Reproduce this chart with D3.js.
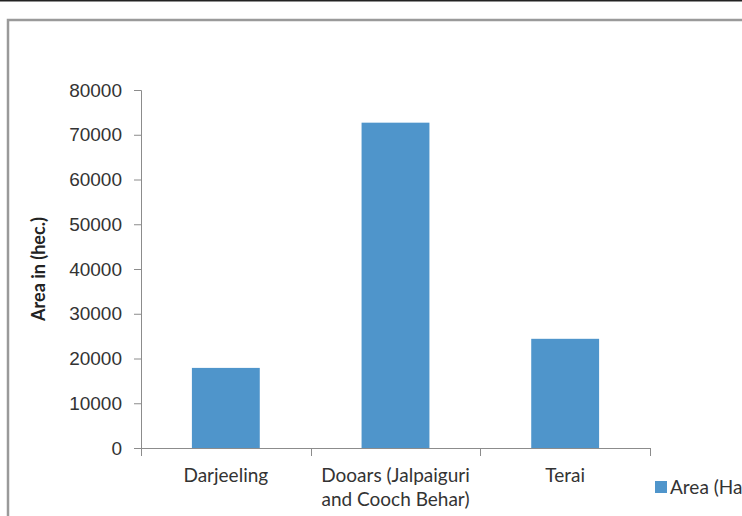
<!DOCTYPE html>
<html>
<head>
<meta charset="utf-8">
<script src="https://cdn.jsdelivr.net/npm/d3@7"></script>
<style>
  body { margin: 0; background: #fff; overflow: hidden; }
  svg { display: block; font-family: Lato, 'Open Sans', sans-serif; }
</style>
</head>
<body>
<div id="chart"></div>
<script>
// data
const categories = ['Darjeeling', 'Dooars (Jalpaiguri|and Cooch Behar)', 'Terai'];
const areaValues = [17900, 72700, 24400];
const yTicks = [0, 10000, 20000, 30000, 40000, 50000, 60000, 70000, 80000];
const seriesName = 'Area (Ha.)';

const width = 742, height = 516;
const barColor = '#4f95cb';
const axisColor = '#8c8c8c';
const textColor = '#333';
const fontSize = '19px';

const svg = d3.select('#chart').append('svg')
  .attr('width', width)
  .attr('height', height);

// page frame: black rule at top, grey chart border running off the edges
svg.append('line')
  .attr('x1', 0).attr('x2', width).attr('y1', 0.75).attr('y2', 0.75)
  .attr('stroke', '#222').attr('stroke-width', 1.5);
svg.append('rect')
  .attr('x', 8).attr('y', 20)
  .attr('width', width + 20).attr('height', height)
  .attr('fill', 'none').attr('stroke', '#9a9a9a').attr('stroke-width', 2.5);

// plot area
const plot = { left: 141, right: 650, top: 90, bottom: 448 };

const x = d3.scaleBand()
  .domain(categories)
  .range([plot.left, plot.right])
  .paddingInner(0.6)
  .paddingOuter(0.3);

const y = d3.scaleLinear()
  .domain([0, 80000])
  .range([plot.bottom, plot.top]);

// bars
svg.append('g')
  .selectAll('rect')
  .data(areaValues)
  .join('rect')
  .attr('x', (d, i) => x(categories[i]))
  .attr('width', x.bandwidth())
  .attr('y', d => y(d))
  .attr('height', d => y(0) - y(d))
  .attr('fill', barColor);

// y axis
const yAxis = svg.append('g')
  .attr('transform', `translate(${plot.left},0)`)
  .call(d3.axisLeft(y).tickValues(yTicks).tickSize(7).tickPadding(12).tickFormat(d3.format('d')));
yAxis.select('.domain').attr('stroke', axisColor);
yAxis.selectAll('.tick line').attr('stroke', axisColor);
yAxis.selectAll('.tick text')
  .attr('fill', textColor)
  .style('font-size', fontSize);

// x axis: line with ticks at the category boundaries
svg.append('line')
  .attr('x1', plot.left).attr('x2', plot.right)
  .attr('y1', y(0) + 0.5).attr('y2', y(0) + 0.5)
  .attr('stroke', axisColor);
const boundaries = d3.range(categories.length + 1).map(i => plot.left + i * x.step());
svg.append('g')
  .selectAll('line')
  .data(boundaries)
  .join('line')
  .attr('x1', d => Math.round(d) + 0.5).attr('x2', d => Math.round(d) + 0.5)
  .attr('y1', y(0)).attr('y2', y(0) + 8)
  .attr('stroke', axisColor);

// category labels (split on | for two-line labels)
svg.append('g')
  .selectAll('text')
  .data(categories)
  .join('text')
  .attr('x', d => x(d) + x.bandwidth() / 2)
  .attr('y', 482)
  .attr('text-anchor', 'middle')
  .attr('fill', textColor)
  .style('font-size', fontSize)
  .each(function(d) {
    const lines = d.split('|');
    d3.select(this).selectAll('tspan')
      .data(lines)
      .join('tspan')
      .attr('x', x(d) + x.bandwidth() / 2)
      .attr('dy', (l, i) => i ? 24 : 0)
      .text(l => l);
  });

// y axis title
svg.append('text')
  .attr('transform', `translate(45,${(plot.top + plot.bottom) / 2}) rotate(-90)`)
  .attr('text-anchor', 'middle')
  .attr('fill', '#222')
  .style('font-size', '18px')
  .style('font-weight', 'bold')
  .text('Area in (hec.)');

// legend (runs off the right edge)
const legend = svg.append('g').attr('transform', 'translate(655,481)');
legend.append('rect')
  .attr('width', 12).attr('height', 12)
  .attr('fill', barColor);
legend.append('text')
  .attr('x', 15).attr('y', 12.5)
  .attr('fill', textColor)
  .style('font-size', fontSize)
  .text(seriesName);
</script>
</body>
</html>
